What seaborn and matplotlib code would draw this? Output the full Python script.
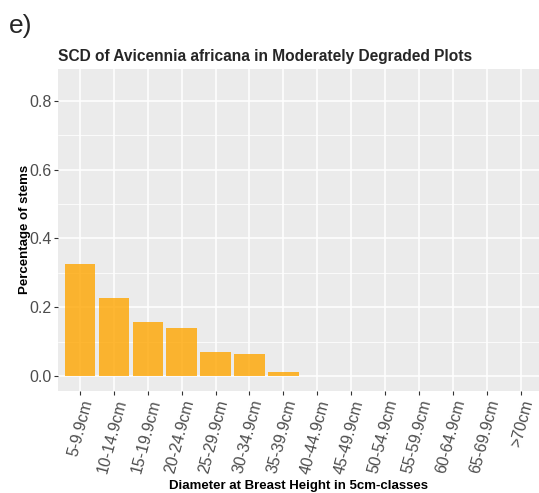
import matplotlib
matplotlib.use("Agg")
import matplotlib.pyplot as plt
import matplotlib.transforms as mtransforms
import seaborn as sns
import pandas as pd
from matplotlib.ticker import MultipleLocator

# Size-class distribution of stems
dbh_classes = ["5-9.9cm", "10-14.9cm", "15-19.9cm", "20-24.9cm", "25-29.9cm",
               "30-34.9cm", "35-39.9cm", "40-44.9cm", "45-49.9cm", "50-54.9cm",
               "55-59.9cm", "60-64.9cm", "65-69.9cm", ">70cm"]
stem_share = [0.327, 0.228, 0.158, 0.139, 0.069, 0.064, 0.012,
              0, 0, 0, 0, 0, 0, 0]

df = pd.DataFrame({"dbh": pd.Categorical(dbh_classes, categories=dbh_classes, ordered=True),
                   "share": stem_share})

sns.set_theme(style="darkgrid")
plt.rcParams["font.family"] = ["Liberation Sans", "DejaVu Sans"]

W, H = 539, 493
fig = plt.figure(figsize=(W / 100, H / 100), dpi=100)
left, right, top, bottom = 58.3, 539, 69, 390.7
ax = fig.add_axes([left / W, 1 - bottom / H, (right - left) / W, (bottom - top) / H])
ax.set_facecolor("#EBEBEB")

sns.barplot(data=df, x="dbh", y="share", ax=ax, color="orange", alpha=0.8,
            width=0.9, linewidth=0, saturation=1, zorder=3)

ax.set_xlim(-0.64, 13.54)
ax.set_ylim(-0.0425, 0.8925)
ax.yaxis.set_major_locator(MultipleLocator(0.2))
ax.yaxis.set_minor_locator(MultipleLocator(0.1))
ax.set_yticks([0.0, 0.2, 0.4, 0.6, 0.8])
ax.set_yticklabels(["0.0", "0.2", "0.4", "0.6", "0.8"])

ax.grid(which="major", color="white", linewidth=1.1, zorder=0)
ax.grid(which="minor", axis="y", color="white", linewidth=0.55, zorder=0)
ax.set_axisbelow(True)
for s in ax.spines.values():
    s.set_visible(False)

ax.tick_params(axis="both", which="major", length=2.7, width=0.8, color="#333333",
               labelcolor="#4D4D4D", labelsize=11.5, pad=2, bottom=True, left=True)
ax.tick_params(axis="y", which="minor", length=0)
shift = mtransforms.ScaledTranslation(8 / 100, -3 / 100, fig.dpi_scale_trans)
for lbl in ax.get_xticklabels():
    lbl.set_rotation(75)
    lbl.set_ha("right")
    lbl.set_va("center")
    lbl.set_rotation_mode("anchor")
    lbl.set_transform(lbl.get_transform() + shift)

ax.set_xlabel("Diameter at Breast Height in 5cm-classes", fontsize=9.5,
              fontweight="bold", color="black", labelpad=3)
ax.set_ylabel("Percentage of stems", fontsize=9.5, fontweight="bold",
              color="black", labelpad=-1)

fig.text(left / W, 1 - 57 / H, "SCD of Avicennia africana in Moderately Degraded Plots",
         fontsize=11.2, fontweight="bold", ha="left", va="center")
fig.text(9 / W, 1 - 26 / H, "e)", fontsize=19, ha="left", va="center")

fig.savefig("out.png", dpi=100)
